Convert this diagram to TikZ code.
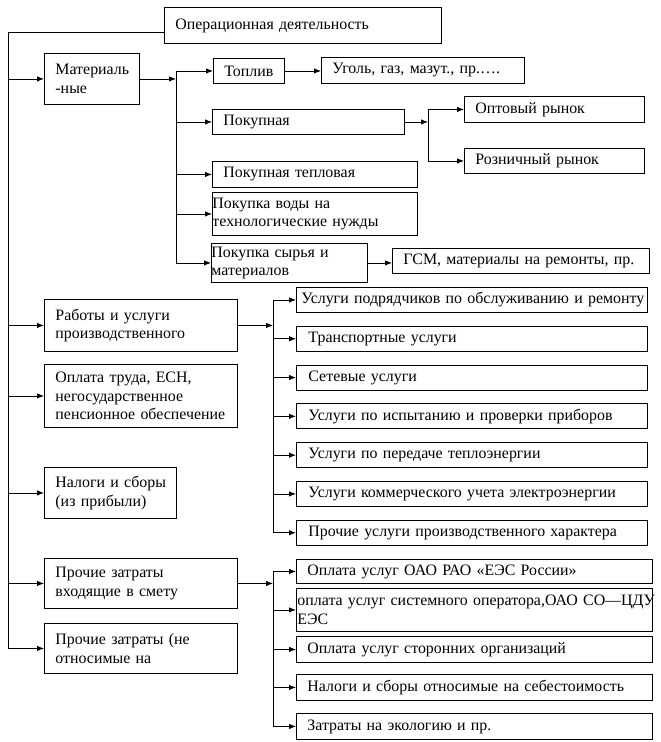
\documentclass[tikz,border=0pt]{standalone}
\usepackage{fontspec}
\setmainfont{Liberation Serif}
\usetikzlibrary{arrows.meta}
\hyphenpenalty=10000
\exhyphenpenalty=10000

\tikzset{
  bx/.style 2 args={draw, anchor=north west, inner xsep=0pt, inner ysep=0pt,
    minimum width=#1, text width=#1, minimum height=#2, align=left,
    execute at begin node={\leftskip=11pt}},
  pad/.style={execute at begin node={\leftskip=#1}},
  arr/.style={-{Latex[length=7pt,width=5.5pt]}}
}

\begin{document}
\begin{tikzpicture}[x=1pt, y=-1pt, line width=0.9pt,
  every node/.style={font=\fontsize{15.9}{18.5}\selectfont}]
    \useasboundingbox[fill=white] (0,0) rectangle (661,742);

    % left column
    \node[bx={277pt}{36pt}] (top) at (164,7) {Операционная деятельность};
    \node[bx={95pt}{51pt}] (mat) at (44,53) {Материаль\\-ные};
    \node[bx={193pt}{52pt}] (works) at (44,299) {Работы и услуги\\производственного};
    \node[bx={193pt}{63pt}] (labor) at (44,364) {Оплата труда, ЕСН,\\негосударственное\\пенсионное обеспечение};
    \node[bx={132pt}{51pt}] (tax) at (44,467) {Налоги и сборы\\(из прибыли)};
    \node[bx={193pt}{50pt}] (other) at (44,558) {Прочие затраты\\входящие в смету};
    \node[bx={193pt}{50pt}] (nonsm) at (44,623) {Прочие затраты (не\\относимые на};

    % materials
    \node[bx={71pt}{25pt}] (fuel) at (213,58) {Топлив};
    \node[bx={203pt}{26pt}] (coal) at (321,57) {Уголь, газ, мазут., пр.….};
    \node[bx={192pt}{25pt}] (buy) at (212,109) {Покупная};
    \node[bx={180pt}{26pt}] (opt) at (464,96) {Оптовый рынок};
    \node[bx={180pt}{25pt}] (rozn) at (464,148) {Розничный рынок};
    \node[bx={205pt}{26pt}] (heat) at (212,161) {Покупная тепловая};
    \node[bx={205pt}{43pt}, pad=0pt] (water) at (212,192) {Покупка воды на\\технологические нужды};
    \node[bx={156pt}{39pt}, pad=0pt] (raw) at (211,243) {Покупка сырья и\\материалов};
    \node[bx={257pt}{25pt}] (gsm) at (392,248) {ГСМ, материалы на ремонты, пр.};

    % production services
    \foreach \p/\t [count=\i] in {5pt/Услуги подрядчиков по обслуживанию и ремонту,
        12pt/Транспортные услуги, 12pt/Сетевые услуги,
        12pt/Услуги по испытанию и проверки приборов,
        12pt/Услуги по передаче теплоэнергии,
        12pt/Услуги коммерческого учета электроэнергии,
        12pt/Прочие услуги производственного характера}
      \node[bx={351pt}{25pt}, pad=\p] (u\i) at (296,{287+38.8*(\i-1)}) {\t};

    % other costs
    \node[bx={356pt}{24pt}] (s1) at (296,559) {Оплата услуг ОАО РАО «ЕЭС России»};
    \node[bx={356pt}{43pt}, execute at begin node={\leftskip=1pt\rightskip=-10pt plus 1fil}]
      (s2) at (296,588) {оплата услуг системного оператора,ОАО СО—ЦДУ\\ЕЭС};
    \node[bx={356pt}{26pt}] (s3) at (296,636) {Оплата услуг сторонних организаций};
    \node[bx={356pt}{26pt}] (s4) at (296,674) {Налоги и сборы относимые на себестоимость};
    \node[bx={356pt}{26pt}] (s5) at (296,713) {Затраты на экологию и пр.};

    % main trunk
    \coordinate (trunk) at (8,32);
    \draw[arr] (top.west |- trunk) -- (trunk) |- (nonsm.west);
    \foreach \n in {mat,works,labor,tax,other}
      \draw[arr] (trunk |- \n.west) -- (\n.west);

    % materials branch
    \coordinate (mspine) at (176,0);
    \draw[arr] (mat.east) -- (mat.east -| mspine);
    \draw (mspine |- fuel.west) -- (mspine |- raw.west);
    \foreach \n in {fuel,buy,heat,water,raw}
      \draw[arr] (mspine |- \n.west) -- (\n.west);
    \draw[arr] (fuel.east) -- (fuel.east -| coal.west);
    \draw[arr] (raw.east) -- (raw.east -| gsm.west);

    \coordinate (bspine) at (428,0);
    \draw[arr] (buy.east) -- (buy.east -| bspine);
    \draw (bspine |- opt.west) -- (bspine |- rozn.west);
    \draw[arr] (bspine |- opt.west) -- (opt.west);
    \draw[arr] (bspine |- rozn.west) -- (rozn.west);

    % services branch
    \coordinate (wspine) at (273,0);
    \draw[arr] (works.east) -- (works.east -| wspine);
    \draw (wspine |- u1.west) -- (wspine |- u7.west);
    \foreach \i in {1,...,7}
      \draw[arr] (wspine |- u\i.west) -- (u\i.west);

    % other costs branch
    \draw[arr] (other.east) -- (other.east -| wspine);
    \draw (wspine |- s1.west) -- (wspine |- s5.west);
    \foreach \i in {1,...,5}
      \draw[arr] (wspine |- s\i.west) -- (s\i.west);
\end{tikzpicture}
\end{document}
